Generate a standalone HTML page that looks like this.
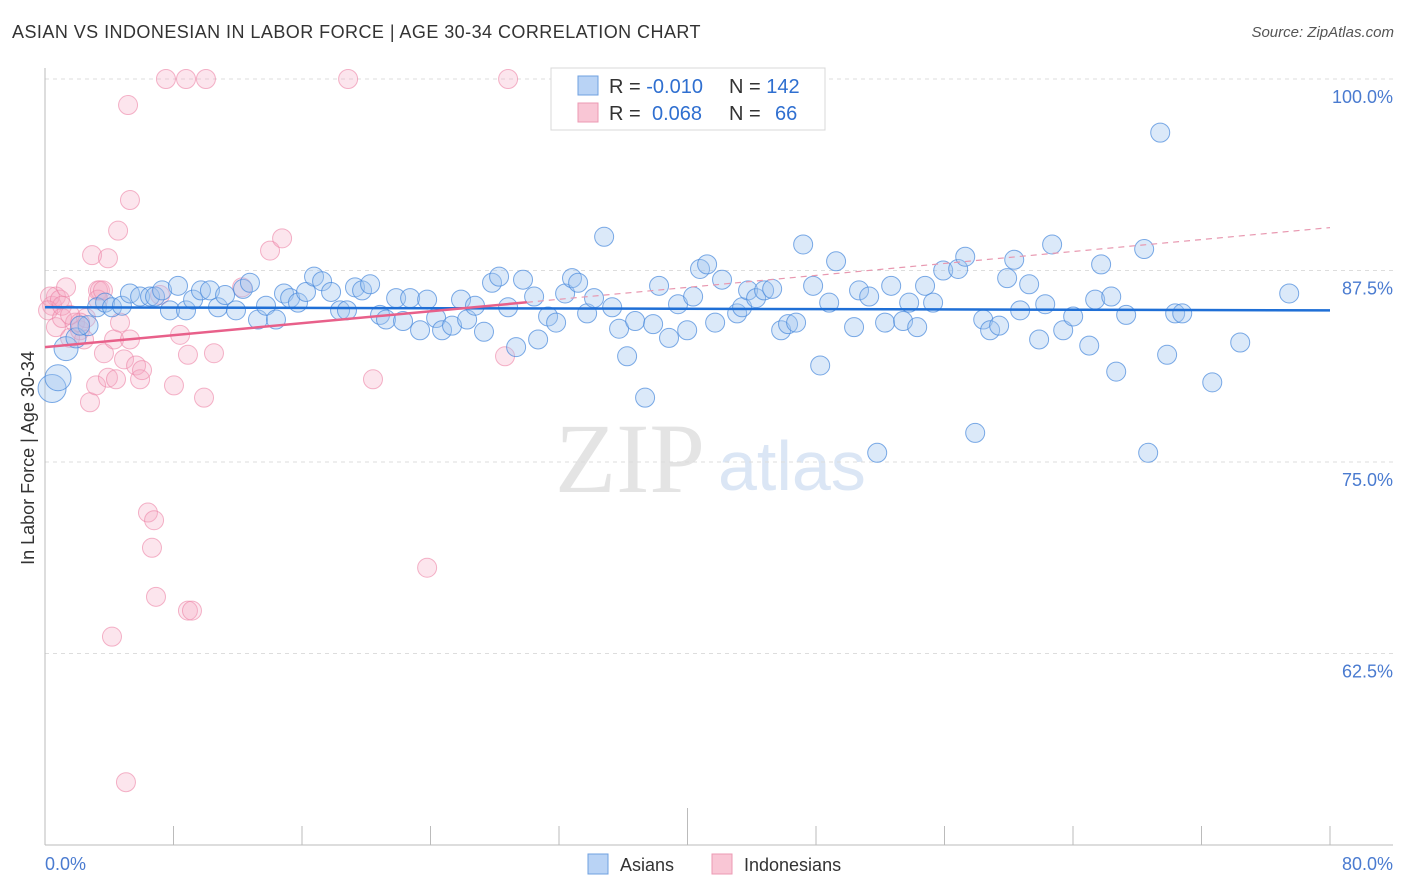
<!DOCTYPE html>
<html><head><meta charset="utf-8">
<style>
body{margin:0;background:#fff;font-family:"Liberation Sans",sans-serif;}
#wrap{position:relative;width:1406px;height:892px;overflow:hidden;}
.t{position:absolute;white-space:nowrap;}
</style></head>
<body>
<div id="wrap">
<div class="t" style="left:12px;top:22px;font-size:18px;color:#333;letter-spacing:0.45px;">ASIAN VS INDONESIAN IN LABOR FORCE | AGE 30-34 CORRELATION CHART</div>
<div class="t" style="right:12px;top:24px;font-size:15px;color:#555;font-style:italic;">Source: ZipAtlas.com</div>
<svg id="svg" width="1406" height="892" style="position:absolute;left:0;top:0">
<text x="555" y="492" font-family="Liberation Serif,serif" font-size="100" fill="#e4e4e4">ZIP</text>
<text x="718" y="490" font-family="Liberation Sans,sans-serif" font-size="70" fill="#dbe6f5">atlas</text>
<g id="grid"></g><g id="axes"></g><g id="pink"></g><g id="blue"></g><g id="lines"></g>
<text x="34" y="458" transform="rotate(-90 34 458)" text-anchor="middle" font-size="18" fill="#333">In Labor Force | Age 30-34</text>
<text x="45" y="870" font-size="18" fill="#4a7bd0">0.0%</text>
<text x="1393" y="870" text-anchor="end" font-size="18" fill="#4a7bd0">80.0%</text>
<rect x="551" y="68" width="274" height="62" fill="#fff" stroke="#d8d8d8"/>
<rect x="578" y="76" width="20" height="19" fill="#b9d3f5" stroke="#6fa0e0"/>
<rect x="578" y="103" width="20" height="19" fill="#f9c6d5" stroke="#ec9ab3"/>
<text x="609" y="93" font-size="20" fill="#333">R = <tspan fill="#2f6fd0">-0.010</tspan><tspan x="729">N = </tspan><tspan fill="#2f6fd0">142</tspan></text>
<text x="609" y="120" font-size="20" fill="#333">R = <tspan x="652" fill="#2f6fd0">0.068</tspan><tspan x="729">N = </tspan><tspan x="775" fill="#2f6fd0">66</tspan></text>
<rect x="588" y="854" width="20" height="20" fill="#b9d3f5" stroke="#6fa0e0"/>
<text x="620" y="871" font-size="18" fill="#333">Asians</text>
<rect x="712" y="854" width="20" height="20" fill="#f9c6d5" stroke="#ec9ab3"/>
<text x="744" y="871" font-size="18" fill="#333">Indonesians</text>
</svg>
</div>
<script>
const yTicks=[100,87.5,75,62.5];
const yTickLabels=["100.0%","87.5%","75.0%","62.5%"];
const xTicks=[0,8,16,24,32,40,48,56,64,72,80];
const blueX=[0.44,0.81,1.31,1.93,2.68,2.18,3.24,3.74,4.17,4.79,5.29,5.92,6.54,6.85,7.29,7.78,8.28,8.78,9.22,9.71,10.27,10.77,11.21,11.89,12.33,12.76,13.26,13.76,14.38,14.88,15.26,15.75,16.25,16.75,17.25,17.81,18.37,18.80,19.30,19.74,20.24,20.86,21.23,21.86,22.29,22.73,23.35,23.79,24.35,24.72,25.34,25.90,26.28,26.77,27.33,27.83,28.27,28.83,29.33,29.76,30.45,30.70,31.32,31.82,32.38,32.81,33.19,33.75,34.18,34.81,35.31,35.74,36.24,36.74,37.36,37.86,38.23,38.85,39.41,39.98,40.35,40.78,41.22,41.72,42.15,43.09,43.40,43.77,44.27,44.77,45.27,45.83,46.26,46.76,47.20,47.82,48.26,48.82,49.25,50.37,50.68,51.31,51.81,52.30,52.68,53.42,53.80,54.30,54.79,55.29,55.92,56.85,57.29,57.91,58.41,58.84,59.40,59.90,60.34,60.71,61.27,61.89,62.27,62.70,63.39,64.01,65.01,65.38,65.75,66.38,66.69,67.31,68.43,68.68,69.43,69.86,70.36,70.80,72.67,74.41,77.46];
const blueY=[79.8,80.5,82.4,83.1,83.9,83.9,85.1,85.4,85.1,85.2,86.0,85.8,85.8,85.8,86.2,84.9,86.5,84.9,85.6,86.2,86.2,85.1,85.9,84.9,86.3,86.7,84.3,85.2,84.3,86.0,85.7,85.4,86.1,87.1,86.8,86.1,84.9,84.9,86.4,86.2,86.6,84.6,84.3,85.7,84.2,85.7,83.6,85.6,84.4,83.6,83.9,85.6,84.3,85.2,83.5,86.7,87.1,85.1,82.5,86.9,85.8,83.0,84.5,84.1,86.0,87.0,86.7,84.7,85.7,89.7,85.1,83.7,81.9,84.2,79.2,84.0,86.5,83.1,85.3,83.6,85.8,87.6,87.9,84.1,86.9,84.7,85.1,86.2,85.7,86.2,86.3,83.6,84.0,84.1,89.2,86.5,81.3,85.4,88.1,83.8,86.2,85.8,75.6,84.1,86.5,84.2,85.4,83.8,86.5,85.4,87.5,87.6,88.4,76.9,84.3,83.6,83.9,87.0,88.2,84.9,86.6,83.0,85.3,89.2,83.6,84.5,82.6,85.6,87.9,85.8,80.9,84.6,88.9,75.6,96.5,82.0,84.7,84.7,80.2,82.8,86.0];
const blueSize=[14,13,12,10,10];
const pinkX=[0.44,0.68,0.31,0.93,0.19,0.68,1.31,1.06,1.56,1.87,2.18,2.43,2.55,2.80,2.93,3.18,3.30,3.42,3.67,3.92,3.92,4.17,4.30,4.42,4.55,4.67,4.92,5.04,5.17,5.29,5.29,5.67,5.92,6.04,6.41,6.66,6.79,6.91,7.16,7.53,8.03,8.41,8.78,8.90,8.90,9.15,9.90,10.02,10.52,12.27,14.01,14.76,18.87,20.42,23.79,28.64,28.83,2.18,1.06,1.56,3.30,3.61];
const pinkY=[85.2,85.8,85.8,85.6,84.9,83.8,86.4,84.4,83.1,84.1,83.6,83.0,84.4,78.9,88.5,80.0,86.2,86.2,82.1,88.3,80.5,63.6,83.0,80.4,90.1,84.1,81.7,54.1,98.3,92.1,83.0,81.3,80.4,81.0,71.7,69.4,71.2,66.2,85.9,100,80.0,83.3,100,82.0,65.3,65.3,79.2,100,82.1,86.4,88.8,89.6,100,80.4,68.1,81.9,100,84.1,85.2,84.6,85.6,86.2];
const blueTrend=[85.1,84.9];
const pinkTrend=[82.5,90.3];
const pinkSolidEnd=30;

const X0=45,X1=1330,Y100=79,PX_PER=191.5/12.5;
const xs=v=>X0+v/80*(X1-X0);
const ys=v=>Y100+(100-v)*PX_PER;
const NS="http://www.w3.org/2000/svg";
function mk(tag,attrs,parent){const e=document.createElementNS(NS,tag);for(const k in attrs)e.setAttribute(k,attrs[k]);document.getElementById(parent).appendChild(e);return e;}

yTicks.forEach((v,i)=>{
  const l=mk('line',{x1:X0,x2:1393,y1:ys(v),y2:ys(v),stroke:'#dddddd','stroke-dasharray':'4 4'},'grid');
  
  
  const t=mk('text',{x:1393,y:ys(v)+24,'text-anchor':'end','font-size':18,fill:'#4a7bd0'},'grid');
  t.textContent=yTickLabels[i];
  
  
});
let a=mk('line',{x1:X0,x2:X0,y1:68,y2:845,stroke:'#bbb'},'axes');


a=mk('line',{x1:X0,x2:1393,y1:845,y2:845,stroke:'#bbb'},'axes');


xTicks.forEach((v,i)=>{
  const tk=mk('line',{x1:xs(v),x2:xs(v),y1:(i===5?808:826),y2:845,stroke:'#bbb'},'axes');
  
  
});
pinkX.forEach((v,i)=>{
  const c=mk('circle',{cx:xs(v),cy:ys(pinkY[i]),r:9.5,fill:'rgba(246,170,195,0.3)',stroke:'rgba(236,130,165,0.6)','stroke-width':1},'pink');
  
  
});
blueX.forEach((v,i)=>{
  const c=mk('circle',{cx:xs(v),cy:ys(blueY[i]),r:(blueSize[i]||9.5),fill:'rgba(160,196,240,0.38)',stroke:'rgba(70,135,220,0.7)','stroke-width':1},'blue');
  
  
});
const pAt=v=>pinkTrend[0]+(pinkTrend[1]-pinkTrend[0])*v/80;
let ln=mk('line',{x1:xs(0),y1:ys(blueTrend[0]),x2:xs(80),y2:ys(blueTrend[1]),stroke:'#1f6fd6','stroke-width':2.5},'lines');


ln=mk('line',{x1:xs(pinkSolidEnd),y1:ys(pAt(pinkSolidEnd)),x2:xs(80),y2:ys(pinkTrend[1]),stroke:'#e898b0','stroke-width':1.2,'stroke-dasharray':'6 5'},'lines');


ln=mk('line',{x1:xs(0),y1:ys(pinkTrend[0]),x2:xs(pinkSolidEnd),y2:ys(pAt(pinkSolidEnd)),stroke:'#e8608a','stroke-width':2.5},'lines');


</script>
</body></html>
